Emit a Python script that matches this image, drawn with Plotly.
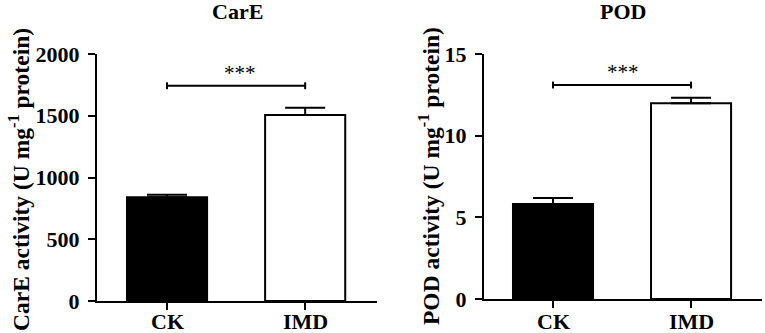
import plotly.graph_objects as go

categories = ["CK", "IMD"]
care_mean = [840, 1506]
care_err = [20, 58]
pod_mean = [5.82, 11.98]
pod_err = [0.36, 0.34]
care_sig_y = 1743
pod_sig_y = 13.1
care_sig_tick = 28
pod_sig_tick = 0.21
care_ticks = [0, 500, 1000, 1500, 2000]
pod_ticks = [0, 5, 10, 15]
bar_fill = ["black", "white"]

W, H = 765, 333
FONT = "Liberation Serif"

fig = go.Figure()

def add_panel(means, errs, sig_y, sig_tick, xa, ya):
    fig.add_trace(go.Bar(
        x=categories, y=means, width=0.58,
        marker=dict(color=bar_fill, line=dict(color="black", width=2)),
        error_y=dict(type="data", array=errs, arrayminus=[0, 0], symmetric=False,
                     color="black", thickness=2, width=20),
        xaxis=xa, yaxis=ya, showlegend=False, hoverinfo="skip"))
    fig.add_trace(go.Scatter(
        x=categories, y=[sig_y, sig_y], mode="lines",
        line=dict(color="black", width=2),
        error_y=dict(type="data", array=[sig_tick, sig_tick], color="black",
                     thickness=2, width=0),
        xaxis=xa, yaxis=ya, showlegend=False, hoverinfo="skip"))

add_panel(care_mean, care_err, care_sig_y, care_sig_tick, "x", "y")
add_panel(pod_mean, pod_err, pod_sig_y, pod_sig_tick, "x2", "y2")

tf = dict(family=FONT, size=22, color="black", weight="bold")
ytf = dict(family=FONT, size=23.5, color="black", weight="bold")
axis_common = dict(showline=True, linecolor="black", linewidth=2,
                   ticks="outside", ticklen=7, tickwidth=2, tickcolor="black",
                   showgrid=False, zeroline=False, automargin=False,
                   tickfont=tf)

fig.update_layout(
    template="none",
    width=W, height=H,
    margin=dict(l=0, r=0, t=0, b=0, pad=0),
    plot_bgcolor="white", paper_bgcolor="white",
    xaxis=dict(domain=[97 / W, 377 / W], type="category", range=[-0.507, 1.52],
               anchor="y", showticklabels=False, **axis_common),
    yaxis=dict(domain=[(H - 301) / H, (H - 54) / H], range=[0, 2000],
               tickvals=care_ticks, anchor="x", ticklabelstandoff=4, **axis_common),
    xaxis2=dict(domain=[484 / W, 762 / W], type="category", range=[-0.5, 1.514],
                anchor="y2", showticklabels=False, **axis_common),
    yaxis2=dict(domain=[(H - 299) / H, (H - 54) / H], range=[0, 15],
                tickvals=pod_ticks, anchor="x2", ticklabelstandoff=4, **axis_common),
)

ann = []
# category labels
for xa in ("x", "x2"):
    for c in categories:
        ann.append(dict(text=c, x=c, xref=xa, y=1 - 321.5 / H, yref="paper",
                        xanchor="center", yanchor="middle", showarrow=False, font=tf))
# titles
ann.append(dict(text="CarE", x=237 / W, y=1 - 12 / H, xref="paper", yref="paper",
                xanchor="center", yanchor="middle", showarrow=False, font=tf))
ann.append(dict(text="POD", x=623 / W, y=1 - 12 / H, xref="paper", yref="paper",
                xanchor="center", yanchor="middle", showarrow=False, font=tf))
# y titles
ann.append(dict(text="CarE activity (U mg<sup>-1</sup> protein)", x=19 / W, y=1 - 180 / H,
                xref="paper", yref="paper", xanchor="center", yanchor="middle",
                textangle=-90, showarrow=False, font=ytf))
ann.append(dict(text="POD activity (U mg<sup>-1</sup> protein)", x=429 / W, y=1 - 176 / H,
                xref="paper", yref="paper", xanchor="center", yanchor="middle",
                textangle=-90, showarrow=False, font=ytf))
# stars
star_font = dict(family=FONT, size=21, color="black")
ann.append(dict(text="***", x=0.5, y=care_sig_y, xref="x", yref="y",
                xanchor="center", yanchor="bottom", yshift=-1, xshift=4,
                showarrow=False, font=star_font))
ann.append(dict(text="***", x=0.5, y=pod_sig_y, xref="x2", yref="y2",
                xanchor="center", yanchor="bottom", yshift=-1, xshift=1,
                showarrow=False, font=star_font))
fig.update_layout(annotations=ann)

fig.write_html("out.html", config={"displayModeBar": False},
               post_script="document.body.style.margin='0';document.body.style.overflow='hidden';")
